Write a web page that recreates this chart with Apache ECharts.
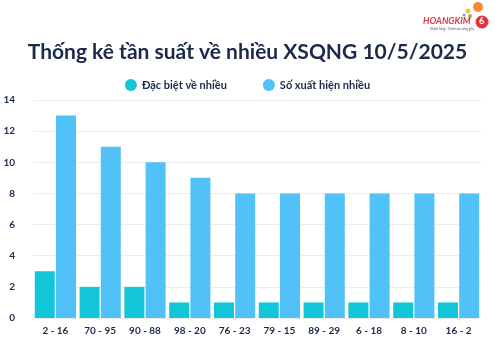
<!DOCTYPE html>
<html><head><meta charset="utf-8">
<script src="https://cdn.jsdelivr.net/npm/echarts@6/dist/echarts.min.js"></script>
<style>html,body{margin:0;padding:0;background:#fff}#c{width:495px;height:345px}</style>
</head><body><div id="c"></div>
<script>
const categories = ['2 - 16','70 - 95','90 - 88','98 - 20','76 - 23','79 - 15','89 - 29','6 - 18','8 - 10','16 - 2'];
const specialValues = [3,2,2,1,1,1,1,1,1,1];
const frequentValues = [13,11,10,9,8,8,8,8,8,8];
const yTicks = [0,2,4,6,8,10,12,14];

const chart = echarts.init(document.getElementById('c'));
chart.setOption({
  backgroundColor:'#fff',
  animation:false,
  title:{text:'Thống kê tần suất về nhiều XSQNG 10/5/2025',left:'center',top:37,
    textStyle:{fontFamily:'Lato',fontWeight:'bold',fontSize:21,color:'#1b2a4a'}},
  legend:{top:74,left:'center',itemGap:36,icon:'circle',itemWidth:12,itemHeight:12,
    textStyle:{fontFamily:'Lato',fontWeight:'bold',fontSize:11,color:'#1b2a4a'}},
  grid:{left:33,right:14,top:100,bottom:27},
  xAxis:{type:'category',data:categories,axisLine:{show:false},axisTick:{show:false},
    axisLabel:{interval:0,fontFamily:'Lato',fontWeight:'bold',fontSize:10,color:'#1b2a4a',margin:8}},
  yAxis:{type:'value',min:yTicks[0],max:yTicks[yTicks.length-1],interval:2,
    axisLabel:{fontFamily:'Lato',fontWeight:'bold',fontSize:10,color:'#1b2a4a',margin:18},
    splitLine:{lineStyle:{color:'#ececec'}}},
  series:[
    {name:'Đặc biệt về nhiều',type:'bar',data:specialValues,itemStyle:{color:'#12c6d8'},barGap:'6%',barCategoryGap:'8%'},
    {name:'Số xuất hiện nhiều',type:'bar',data:frequentValues,itemStyle:{color:'#50c2f7'}}
  ],
  graphic:[
    {type:'circle',shape:{cx:478,cy:7,r:5},style:{fill:'#f58a3a'}},
    {type:'circle',shape:{cx:468,cy:11,r:2.5},style:{fill:'#f5c242'}},
    {type:'circle',shape:{cx:470,cy:16,r:2},style:{fill:'#8fc54a'}},
    {type:'circle',shape:{cx:464,cy:15,r:1.5},style:{fill:'#4fb6e8'}},
    {type:'text',left:423,top:17,style:{text:'HOANGKIM',fontFamily:'Lato',fontWeight:'bold',fontStyle:'italic',fontSize:9,fill:'#e2343f'}},
    {type:'circle',shape:{cx:482,cy:22,r:6.5},style:{fill:'#e2343f'}},
    {type:'text',left:479,top:17,style:{text:'6',fontFamily:'Lato',fontWeight:'bold',fontSize:9,fill:'#fff'}},
    {type:'text',left:430,top:28,style:{text:'Khách hàng - Chính xác từng giây',fontFamily:'Lato',fontSize:3,fill:'#555'}}
  ]
});
</script></body></html>
